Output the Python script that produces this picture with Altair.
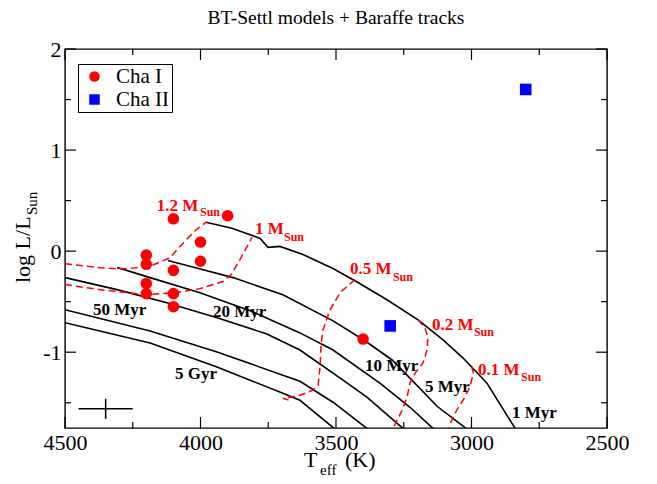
import altair as alt
import pandas as pd

# ---------------- data ----------------
# Isochrones (Baraffe), Teff [K], log L/Lsun
iso_names = ["1 Myr", "5 Myr", "10 Myr", "20 Myr", "50 Myr", "5 Gyr"]
iso_T = [
    [3980, 3884, 3780, 3751, 3707, 3622, 3511, 3419, 3312, 3197, 3105, 3031, 2943, 2839],
    [4120, 3994, 3880, 3696, 3511, 3393, 3293, 3220, 3127, 3020],
    [4308, 4186, 4002, 3817, 3633, 3511, 3338, 3227, 3142],
    [4500, 4308, 4124, 3939, 3755, 3633, 3474, 3386, 3253],
    [4500, 4186, 3939, 3696, 3633, 3511, 3386],
    [4500, 4186, 3939, 3696, 3633, 3507],
]
iso_L = [
    [0.286, 0.226, 0.126, 0.037, 0.047, -0.033, -0.172, -0.311, -0.481, -0.680, -0.878, -1.058, -1.306, -1.754],
    [-0.093, -0.182, -0.262, -0.431, -0.690, -0.887, -1.077, -1.276, -1.535, -1.754],
    [-0.162, -0.262, -0.411, -0.590, -0.809, -0.978, -1.306, -1.545, -1.754],
    [-0.262, -0.381, -0.510, -0.660, -0.819, -0.978, -1.276, -1.445, -1.754],
    [-0.580, -0.790, -0.998, -1.227, -1.287, -1.495, -1.754],
    [-0.709, -0.908, -1.147, -1.406, -1.476, -1.754],
]

# Mass tracks
trk_names = ["1.2", "1", "0.5", "0.2", "0.1"]
trk_T = [
    [4500, 4371, 4272, 4186, 4113, 4063, 4014, 3977],
    [4500, 4371, 4197, 4094, 4002, 3917, 3887, 3854, 3810],
    [3430, 3485, 3522, 3548, 3555, 3559, 3566, 3585, 3633, 3670, 3696, 3662],
    [3197, 3172, 3161, 3164, 3179, 3208, 3227, 3238, 3256, 3290],
    [2999, 2993, 3006, 3024, 3055, 3079, 3083],
]
trk_L = [
    [-0.125, -0.165, -0.175, -0.149, -0.066, 0.084, 0.216, 0.289],
    [-0.331, -0.381, -0.431, -0.411, -0.371, -0.301, -0.231, -0.082, 0.136],
    [-0.281, -0.411, -0.580, -0.779, -0.928, -1.147, -1.326, -1.376, -1.426, -1.446, -1.456, -1.486],
    [-0.680, -0.759, -0.849, -0.978, -1.107, -1.207, -1.306, -1.446, -1.575, -1.754],
    [-1.144, -1.210, -1.343, -1.443, -1.575, -1.708, -1.754],
]

# Observed objects
cha1_T = [4200, 4200, 4200, 4200, 4100, 4100, 4100, 4100, 4000, 4000, 3900, 3400]
cha1_L = [-0.04, -0.13, -0.32, -0.42, 0.32, -0.19, -0.42, -0.55, 0.09, -0.10, 0.35, -0.87]
cha2_T = [3300, 2800]
cha2_L = [-0.74, 1.60]

# Typical error bar
err_T, err_L, err_dT, err_dL = [4350], [-1.56], [100], [0.1]

# Labels
iso_lab_text = ["50 Myr", "20 Myr", "5 Gyr", "10 Myr", "5 Myr", "1 Myr"]
iso_lab_T = [4397, 3954, 4094, 3393, 3172, 2851]
iso_lab_L = [-0.630, -0.650, -1.267, -1.187, -1.396, -1.655]

mass_lab_text = ["1.2 M", "1 M", "0.5 M", "0.2 M", "0.1 M"]
mass_lab_T = [4161, 3799, 3448, 3146, 2976]
mass_lab_L = [0.395, 0.166, -0.222, -0.779, -1.227]
sub_lab_T = [4002, 3692, 3290, 2991, 2817]
sub_lab_L = [0.345, 0.097, -0.292, -0.839, -1.286]

x_major = [4500, 4000, 3500, 3000, 2500]
x_minor = [4250, 3750, 3250, 2750]
y_major = [-1, 0, 1, 2]
y_minor = [-1.5, -0.5, 0.5, 1.5]

# ---------------- tables ----------------
rows = []
for n, ts, ls in zip(iso_names, iso_T, iso_L):
    for i, (t, l) in enumerate(zip(ts, ls)):
        rows.append({"name": n, "i": i, "T": t, "L": l})
iso_df = pd.DataFrame(rows)

rows = []
for n, ts, ls in zip(trk_names, trk_T, trk_L):
    for i, (t, l) in enumerate(zip(ts, ls)):
        rows.append({"name": n, "i": i, "T": t, "L": l})
trk_df = pd.DataFrame(rows)

pts_df = pd.DataFrame({
    "T": cha1_T + cha2_T,
    "L": cha1_L + cha2_L,
    "group": ["Cha I"] * len(cha1_T) + ["Cha II"] * len(cha2_T),
})

err_df = pd.DataFrame({
    "T": err_T, "L": err_L,
    "T1": [t - d for t, d in zip(err_T, err_dT)],
    "T2": [t + d for t, d in zip(err_T, err_dT)],
    "L1": [l - d for l, d in zip(err_L, err_dL)],
    "L2": [l + d for l, d in zip(err_L, err_dL)],
})

iso_lab_df = pd.DataFrame({"T": iso_lab_T, "L": iso_lab_L, "text": iso_lab_text})
mass_lab_df = pd.DataFrame({"T": mass_lab_T, "L": mass_lab_L, "text": mass_lab_text})
sub_lab_df = pd.DataFrame({"T": sub_lab_T, "L": sub_lab_L, "text": ["Sun"] * len(sub_lab_T)})

W, H = 542, 379
FONT = "Liberation Serif"

xs = alt.Scale(domain=[2500, 4500], reverse=True, nice=False, zero=False)
ys = alt.Scale(domain=[-1.75, 2], nice=False, zero=False)

xaxis = alt.Axis(values=x_major, labelExpr="'' + datum.value", title=None, grid=False, domain=False,
                 tickSize=0, labelPadding=4, labelFont=FONT, labelFontSize=22,
                 labelColor="black", labelFlush=False)
yaxis = alt.Axis(values=y_major, labelExpr="'' + datum.value", title=None, grid=False, domain=False,
                 tickSize=0, labelPadding=4, labelFont=FONT, labelFontSize=22,
                 labelColor="black", labelFlush=False)

X = alt.X("T:Q", scale=xs, axis=xaxis)
Y = alt.Y("L:Q", scale=ys, axis=yaxis)

iso = alt.Chart(iso_df).mark_line(color="black", strokeWidth=1.6, clip=True).encode(
    x=X, y=Y, detail="name:N", order="i:Q")

trk = alt.Chart(trk_df).mark_line(color="#ff0000", strokeWidth=1.5, strokeDash=[7, 4], clip=True).encode(
    x="T:Q", y="L:Q", detail="name:N", order="i:Q")

leg = alt.Legend(title=None, orient="none", legendX=13, legendY=15,
                 strokeColor="black", fillColor="white", padding=2,
                 symbolOffset=4, labelOffset=11, rowPadding=1,
                 labelFont=FONT, labelFontSize=21, labelColor="black",
                 symbolSize=110, symbolStrokeWidth=0)

pts = alt.Chart(pts_df).mark_point(filled=True, opacity=1, size=135).encode(
    x="T:Q", y="L:Q",
    color=alt.Color("group:N",
                    scale=alt.Scale(domain=["Cha I", "Cha II"], range=["#ff0000", "#0000ff"]),
                    legend=leg),
    shape=alt.Shape("group:N",
                    scale=alt.Scale(domain=["Cha I", "Cha II"], range=["circle", "square"]),
                    legend=leg),
)

err_h = alt.Chart(err_df).mark_rule(color="black", strokeWidth=1.5).encode(x="T1:Q", x2="T2:Q", y="L:Q")
err_v = alt.Chart(err_df).mark_rule(color="black", strokeWidth=1.5).encode(x="T:Q", y="L1:Q", y2="L2:Q")

iso_lab = alt.Chart(iso_lab_df).mark_text(align="left", baseline="alphabetic", font=FONT,
                                          fontWeight="bold", fontSize=17, color="black").encode(
    x="T:Q", y="L:Q", text="text:N")
mass_lab = alt.Chart(mass_lab_df).mark_text(align="left", baseline="alphabetic", font=FONT,
                                            fontWeight="bold", fontSize=17, color="#ff0000").encode(
    x="T:Q", y="L:Q", text="text:N")
sub_lab = alt.Chart(sub_lab_df).mark_text(align="left", baseline="alphabetic", font=FONT,
                                          fontWeight="bold", fontSize=12, color="#ff0000").encode(
    x="T:Q", y="L:Q", text="text:N")

# inward ticks (mirrored on all four sides)
def xticks(vals, length):
    d = pd.DataFrame({"T": vals})
    b = alt.Chart(d).mark_rule(color="black", strokeWidth=1.2).encode(
        x="T:Q", y=alt.value(H), y2=alt.value(H - length))
    t = alt.Chart(d).mark_rule(color="black", strokeWidth=1.2).encode(
        x="T:Q", y=alt.value(0), y2=alt.value(length))
    return [b, t]

def yticks(vals, length):
    d = pd.DataFrame({"L": vals})
    l = alt.Chart(d).mark_rule(color="black", strokeWidth=1.2).encode(
        y="L:Q", x=alt.value(0), x2=alt.value(length))
    r = alt.Chart(d).mark_rule(color="black", strokeWidth=1.2).encode(
        y="L:Q", x=alt.value(W), x2=alt.value(W - length))
    return [l, r]

ticks = xticks(x_major, 11) + xticks(x_minor, 6) + yticks(y_major, 11) + yticks(y_minor, 6)

dummy = pd.DataFrame({"k": [0]})
def label(text, x, y, size, angle=0):
    return alt.Chart(dummy).mark_text(align="left", baseline="alphabetic", font=FONT,
                                      fontSize=size, color="black", angle=angle).encode(
        text=alt.value(text), x=alt.value(x), y=alt.value(y))

xt = [label("T", 239, 418, 22), label("eff", 255, 426, 15), label("(K)", 280, 418, 22)]
yt = [label("log L/L", -35, 234, 22, 270), label("Sun", -28, 166, 15, 270)]

chart = alt.layer(
    iso, trk, *ticks, err_h, err_v, pts, iso_lab, mass_lab, sub_lab, *xt, *yt
).properties(
    width=W, height=H,
    padding={"left": 65, "top": 49, "right": 50, "bottom": 56},
    autosize=alt.AutoSizeParams(type="none"),
    title=alt.TitleParams("BT-Settl models + Baraffe tracks", font=FONT, fontSize=19.5,
                          fontWeight="normal", color="black", offset=10),
).configure(
    background="white", font=FONT
).configure_view(
    stroke="black", strokeWidth=1.4
).configure_axis(
    labelFont=FONT, labelFontSize=22, labelColor="black"
).configure_title(
    font=FONT, fontSize=19.5, fontWeight="normal", color="black"
).configure_legend(
    labelFont=FONT, labelFontSize=21
)

chart.save("out.html", embed_options={"renderer": "svg", "actions": False})
